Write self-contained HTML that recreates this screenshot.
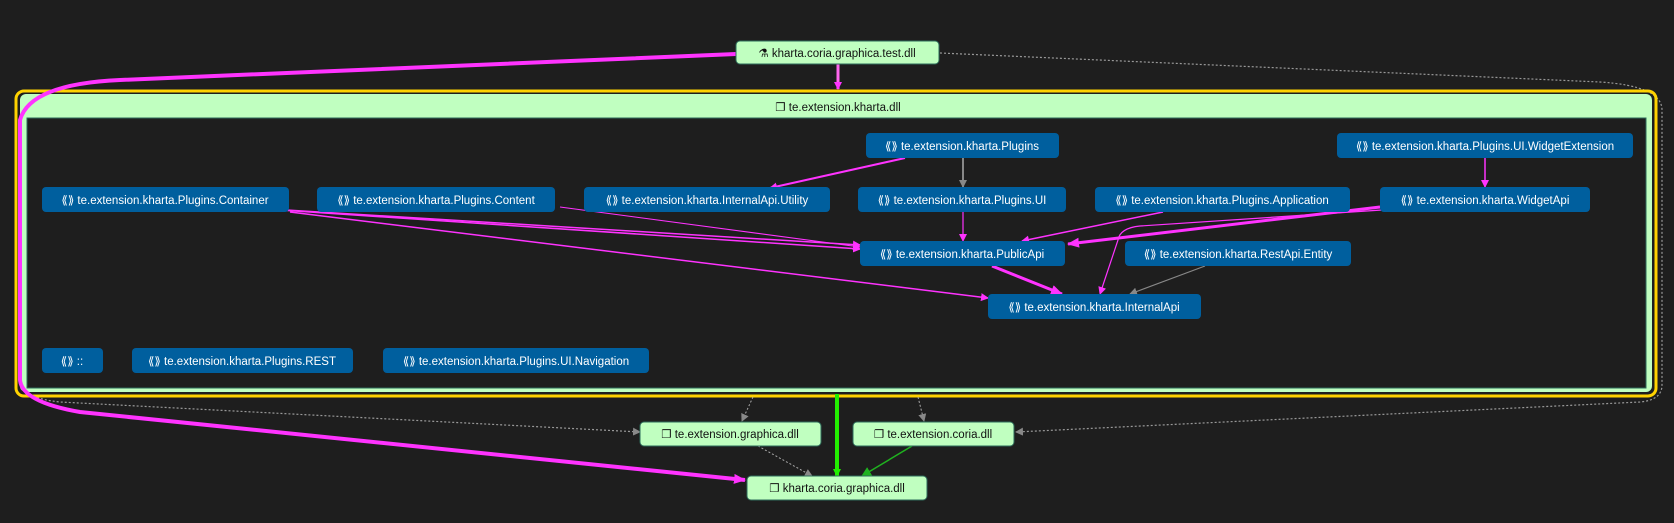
<!DOCTYPE html>
<html><head><meta charset="utf-8"><style>
html,body{margin:0;padding:0;background:#1e1e1e;width:1674px;height:523px;overflow:hidden}
svg{display:block;font-family:"Liberation Sans",sans-serif}
text{text-anchor:middle}
.n rect{fill:#005f9e}
.n text{fill:#fff;font-size:11.5px}
.g rect{fill:#c0ffc0;stroke:#2d6b5a;stroke-width:1}
.g text{fill:#111;font-size:11.5px}
</style></head><body>
<svg width="1674" height="523" viewBox="0 0 1674 523">
<defs>
<marker id="ap" markerWidth="8" markerHeight="8" refX="7" refY="4" orient="auto" markerUnits="userSpaceOnUse"><path d="M0,0 L8,4 L0,8z" fill="#ff33ff"/></marker>
<marker id="apl" markerWidth="12" markerHeight="10" refX="11" refY="5" orient="auto" markerUnits="userSpaceOnUse"><path d="M0,0 L12,5 L0,10z" fill="#ff33ff"/></marker>
<marker id="ag" markerWidth="8" markerHeight="8" refX="7" refY="4" orient="auto" markerUnits="userSpaceOnUse"><path d="M0,0 L8,4 L0,8z" fill="#888"/></marker>
<marker id="agr" markerWidth="10" markerHeight="10" refX="9" refY="5" orient="auto" markerUnits="userSpaceOnUse"><path d="M0,0 L10,5 L0,10z" fill="#1fb21f"/></marker>
<marker id="agg" markerWidth="8" markerHeight="8" refX="7" refY="4" orient="auto" markerUnits="userSpaceOnUse"><path d="M0,0 L8,4 L0,8z" fill="#22ee00"/></marker>
</defs>

<path d="M940,53 L1600,82 Q1662,86 1662,110 L1662,385 Q1662,400 1640,402 L1016,432" fill="none" stroke="#999" stroke-width="1.2" stroke-dasharray="2,2" marker-end="url(#ag)"/>
<path d="M30,394 Q40,400 60,402 L640,432" fill="none" stroke="#999" stroke-width="1.2" stroke-dasharray="2,2" marker-end="url(#ag)"/>

<rect x="16" y="91" width="1640" height="305" rx="8" fill="none" stroke="#ffd200" stroke-width="3"/>
<rect x="20" y="94" width="1632" height="298" rx="6" fill="#c0ffc0"/>
<rect x="27" y="118" width="1619" height="270" fill="#1e1e1e" stroke="#2d6b5a"/>
<g class="g"><text x="838" y="111">❐ te.extension.kharta.dll</text></g>

<path d="M736,54 L120,80 Q30,84 20,120 L20,380 Q22,402 80,412 L745,480" fill="none" stroke="#ff33ff" stroke-width="4" marker-end="url(#apl)"/>
<path d="M838,64 L838,89" stroke="#ff66ee" stroke-width="3" marker-end="url(#ap)"/>

<path d="M905,158 L770,188" stroke="#ff33ff" stroke-width="2" marker-end="url(#ap)"/>
<path d="M963,158 L963,187" stroke="#888" stroke-width="2" marker-end="url(#ag)"/>
<path d="M963,212 L963,241" stroke="#ff33ff" stroke-width="1.2" marker-end="url(#ap)"/>
<path d="M270,209 L860,245" stroke="#ff33ff" stroke-width="1.5" marker-end="url(#ap)"/>
<path d="M280,210 L860,249" stroke="#ff33ff" stroke-width="1.5" marker-end="url(#ap)"/>
<path d="M290,212 L988,298" stroke="#ff33ff" stroke-width="1.5" marker-end="url(#ap)"/>
<path d="M560,207 L860,247" stroke="#ff33ff" stroke-width="1" marker-end="url(#ap)"/>
<path d="M1163,212 L1022,241" stroke="#ff33ff" stroke-width="1.5" marker-end="url(#ap)"/>
<path d="M1380,207 L1068,244" stroke="#ff33ff" stroke-width="3" marker-end="url(#apl)"/>
<path d="M1382,210 L1140,226 Q1120,228 1118,240 L1100,294" fill="none" stroke="#ff33ff" stroke-width="1.2" marker-end="url(#ap)"/>
<path d="M1485,158 L1485,187" stroke="#ff33ff" stroke-width="1.5" marker-end="url(#ap)"/>
<path d="M992,266 L1062,294" stroke="#ff33ff" stroke-width="3" marker-end="url(#apl)"/>
<path d="M1205,266 L1130,294" stroke="#888" stroke-width="1.2" marker-end="url(#ag)"/>

<path d="M753,397 L742,421" stroke="#aaa" stroke-width="1" stroke-dasharray="2,2" marker-end="url(#ag)"/>
<path d="M918,397 L924,421" stroke="#aaa" stroke-width="1" stroke-dasharray="2,2" marker-end="url(#ag)"/>
<path d="M837,394 L837,476" stroke="#22ee00" stroke-width="4" marker-end="url(#agg)"/>
<path d="M758,446 L812,476" stroke="#aaa" stroke-width="1" stroke-dasharray="2,2" marker-end="url(#ag)"/>
<path d="M912,446 L862,476" stroke="#1fb21f" stroke-width="1.5" marker-end="url(#agr)"/>

<g class="g">
<rect x="736" y="41" width="203" height="23" rx="4"/><text x="837" y="57">⚗ kharta.coria.graphica.test.dll</text>
<rect x="640" y="422" width="181" height="24" rx="4"/><text x="730" y="438">❐ te.extension.graphica.dll</text>
<rect x="853" y="422" width="161" height="24" rx="4"/><text x="933" y="438">❐ te.extension.coria.dll</text>
<rect x="747" y="476" width="180" height="24" rx="4"/><text x="837" y="492">❐ kharta.coria.graphica.dll</text>
</g>
<g class="n">
<rect x="866" y="133" width="193" height="25" rx="4"/><text x="962" y="150">⟪⟫ te.extension.kharta.Plugins</text>
<rect x="1337" y="133" width="296" height="25" rx="4"/><text x="1485" y="150">⟪⟫ te.extension.kharta.Plugins.UI.WidgetExtension</text>
<rect x="42" y="187" width="247" height="25" rx="4"/><text x="165" y="204">⟪⟫ te.extension.kharta.Plugins.Container</text>
<rect x="317" y="187" width="238" height="25" rx="4"/><text x="436" y="204">⟪⟫ te.extension.kharta.Plugins.Content</text>
<rect x="584" y="187" width="246" height="25" rx="4"/><text x="707" y="204">⟪⟫ te.extension.kharta.InternalApi.Utility</text>
<rect x="858" y="187" width="208" height="25" rx="4"/><text x="962" y="204">⟪⟫ te.extension.kharta.Plugins.UI</text>
<rect x="1095" y="187" width="255" height="25" rx="4"/><text x="1222" y="204">⟪⟫ te.extension.kharta.Plugins.Application</text>
<rect x="1380" y="187" width="210" height="25" rx="4"/><text x="1485" y="204">⟪⟫ te.extension.kharta.WidgetApi</text>
<rect x="860" y="241" width="205" height="25" rx="4"/><text x="962" y="258">⟪⟫ te.extension.kharta.PublicApi</text>
<rect x="1125" y="241" width="226" height="25" rx="4"/><text x="1238" y="258">⟪⟫ te.extension.kharta.RestApi.Entity</text>
<rect x="988" y="294" width="213" height="25" rx="4"/><text x="1094" y="311">⟪⟫ te.extension.kharta.InternalApi</text>
<rect x="42" y="348" width="61" height="25" rx="4"/><text x="72" y="365">⟪⟫ ::</text>
<rect x="132" y="348" width="221" height="25" rx="4"/><text x="242" y="365">⟪⟫ te.extension.kharta.Plugins.REST</text>
<rect x="383" y="348" width="266" height="25" rx="4"/><text x="516" y="365">⟪⟫ te.extension.kharta.Plugins.UI.Navigation</text>
</g>
</svg>
</body></html>
